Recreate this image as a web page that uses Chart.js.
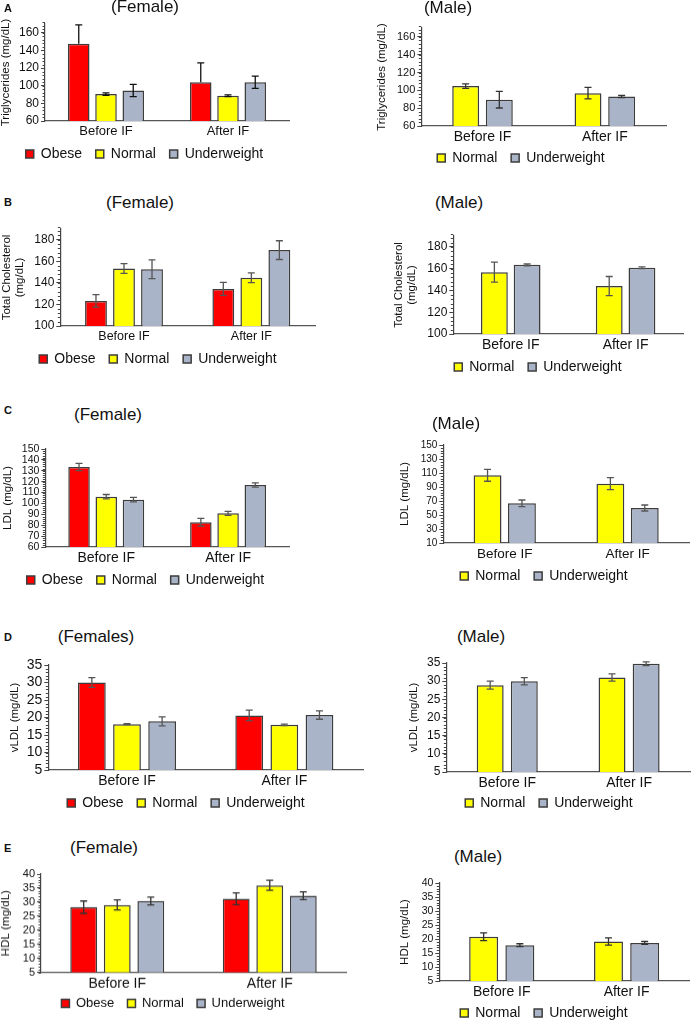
<!DOCTYPE html>
<html>
<head>
<meta charset="utf-8">
<script src="https://cdn.jsdelivr.net/npm/chart.js@4.4.1/dist/chart.umd.min.js"></script>
<style>
  body { margin: 0; background: #fff; width: 692px; height: 1020px; overflow: hidden; position: relative; font-family: "Liberation Sans", Arial, sans-serif; color: #111; }
  canvas { position: absolute; }
  .ttl { position: absolute; font-size: 17px; transform: translate(-50%, -50%); white-space: nowrap; }
  .lbl { position: absolute; font-size: 11px; font-weight: bold; transform: translateY(-50%); }
</style>
</head>
<body>
<script>
const groups = ["Before IF", "After IF"];

// A - triglycerides
const tgTicks = [60, 80, 100, 120, 140, 160];
const tgFemaleObese = [147.5, 104];
const tgFemaleObeseErr = [21.5, 22];
const tgFemaleNormal = [90.5, 88.6];
const tgFemaleNormalErr = [1.5, 1];
const tgFemaleUnder = [94.6, 104];
const tgFemaleUnderErr = [7, 7];
const tgMaleNormal = [104.8, 96.9];
const tgMaleNormalErr = [2.5, 6.4];
const tgMaleUnder = [89.5, 93.2];
const tgMaleUnderErr = [9.3, 1.2];

// B - total cholesterol
const tcTicks = [100, 120, 140, 160, 180];
const tcFemaleObese = [123.3, 134.4];
const tcFemaleObeseErr = [5.8, 6];
const tcFemaleNormal = [153.3, 144.7];
const tcFemaleNormalErr = [4.5, 4.5];
const tcFemaleUnder = [152.7, 170.4];
const tcFemaleUnderErr = [8.7, 8.7];
const tcMaleNormal = [156.8, 144];
const tcMaleNormalErr = [9.2, 8.8];
const tcMaleUnder = [163.5, 160.8];
const tcMaleUnderErr = [0.8, 0.8];

// C - LDL
const ldlFemaleTicks = [60, 70, 80, 90, 100, 110, 120, 130, 140, 150];
const ldlMaleTicks = [10, 30, 50, 70, 90, 110, 130, 150];
const ldlFemaleObese = [133.5, 82.7];
const ldlFemaleObeseErr = [3.3, 3.6];
const ldlFemaleNormal = [106.2, 90.9];
const ldlFemaleNormalErr = [2, 1.8];
const ldlFemaleUnder = [103.5, 116.9];
const ldlFemaleUnderErr = [2, 2];
const ldlMaleNormal = [106.7, 94.8];
const ldlMaleNormalErr = [8.5, 8.5];
const ldlMaleUnder = [66.7, 60];
const ldlMaleUnderErr = [4.7, 4.3];

// D - vLDL
const vldlTicks = [5, 10, 15, 20, 25, 30, 35];
const vldlFemaleObese = [30, 20.6];
const vldlFemaleObeseErr = [1.4, 1.5];
const vldlFemaleNormal = [18.1, 17.9];
const vldlFemaleNormalErr = [0.15, 0.2];
const vldlFemaleUnder = [18.9, 20.7];
const vldlFemaleUnderErr = [1.3, 1.2];
const vldlMaleNormal = [28.9, 31];
const vldlMaleNormalErr = [1.1, 1];
const vldlMaleUnder = [30, 34.8];
const vldlMaleUnderErr = [1, 0.5];

// E - HDL
const hdlTicks = [5, 10, 15, 20, 25, 30, 35, 40];
const hdlFemaleObese = [28.2, 31.2];
const hdlFemaleObeseErr = [2.2, 2.1];
const hdlFemaleNormal = [29, 36];
const hdlFemaleNormalErr = [1.8, 1.8];
const hdlFemaleUnder = [30.4, 32.3];
const hdlFemaleUnderErr = [1.4, 1.4];
const hdlMaleNormal = [20.8, 19.1];
const hdlMaleNormalErr = [1.4, 1.3];
const hdlMaleUnder = [17.8, 18.6];
const hdlMaleUnderErr = [0.5, 0.5];

const colors = { Obese: "#ff0000", Normal: "#ffff00", Underweight: "#aab4c8" };

// panel layout: tx = centre of y title, l/t/r/b = plot area, lg = legend offset below axis
const panels = [
  { tx: 6, l: 45, t: 24, r: 289, b: 121, lg: 33, tf: 12, cf: 13, lf: 14, cat: 0.67, bar: 0.79, ec: "#111",
    min: 60, max: 170, ticks: tgTicks, yTitle: "Triglycerides (mg/dL)", title: ["(Female)", 145, 7], letter: ["A", 4, 8],
    series: [["Obese", tgFemaleObese, tgFemaleObeseErr, true], ["Normal", tgFemaleNormal, tgFemaleNormalErr], ["Underweight", tgFemaleUnder, tgFemaleUnderErr]] },
  { tx: 382, l: 421, t: 28, r: 666, b: 126, lg: 32, tf: 11, cf: 14, lf: 14, cat: 0.55, bar: 0.8, ec: "#333",
    min: 60, max: 170, ticks: tgTicks, yTitle: "Triglycerides (mg/dL)", title: ["(Male)", 448, 8],
    series: [["Normal", tgMaleNormal, tgMaleNormalErr], ["Underweight", tgMaleUnder, tgMaleUnderErr]] },
  { tx: 7, l: 60, t: 229, r: 315, b: 326, lg: 33, tf: 12, cf: 12.5, lf: 14, cat: 0.66, bar: 0.78, ec: "#555",
    min: 100, max: 190, ticks: tcTicks, yTitle: ["Total Cholesterol", "(mg/dL)"], title: ["(Female)", 140, 203], letter: ["B", 4, 202],
    series: [["Obese", tcFemaleObese, tcFemaleObeseErr], ["Normal", tcFemaleNormal, tcFemaleNormalErr], ["Underweight", tcFemaleUnder, tcFemaleUnderErr]] },
  { tx: 399, l: 453, t: 236, r: 683, b: 334, lg: 33, tf: 12, cf: 14, lf: 14, cat: 0.57, bar: 0.82, ec: "#555",
    min: 100, max: 190, ticks: tcTicks, yTitle: ["Total Cholesterol", "(mg/dL)"], title: ["(Male)", 459, 203],
    series: [["Normal", tcMaleNormal, tcMaleNormalErr], ["Underweight", tcMaleUnder, tcMaleUnderErr]] },
  { tx: 8, l: 45, t: 449, r: 289, b: 547, lg: 33, tf: 10.5, cf: 14, lf: 14, cat: 0.67, bar: 0.79, ec: "#555",
    min: 60, max: 150, ticks: ldlFemaleTicks, yTitle: "LDL (mg/dL)", title: ["(Female)", 108, 415], letter: ["C", 4, 410],
    series: [["Obese", ldlFemaleObese, ldlFemaleObeseErr], ["Normal", ldlFemaleNormal, ldlFemaleNormalErr], ["Underweight", ldlFemaleUnder, ldlFemaleUnderErr]] },
  { tx: 405, l: 443, t: 445, r: 689, b: 543, lg: 33, tf: 10, cf: 13.5, lf: 14, cat: 0.56, bar: 0.81, ec: "#555",
    min: 10, max: 150, ticks: ldlMaleTicks, yTitle: "LDL (mg/dL)", title: ["(Male)", 456, 424],
    series: [["Normal", ldlMaleNormal, ldlMaleNormalErr], ["Underweight", ldlMaleUnder, ldlMaleUnderErr]] },
  { tx: 15, l: 48, t: 665, r: 363, b: 770, lg: 33, tf: 14, cf: 14, lf: 14, cat: 0.67, bar: 0.79, ec: "#555",
    min: 5, max: 35, ticks: vldlTicks, yTitle: "vLDL (mg/dL)", title: ["(Females)", 96, 637], letter: ["D", 4, 637],
    series: [["Obese", vldlFemaleObese, vldlFemaleObeseErr], ["Normal", vldlFemaleNormal, vldlFemaleNormalErr], ["Underweight", vldlFemaleUnder, vldlFemaleUnderErr]] },
  { tx: 414, l: 446, t: 663, r: 690, b: 772, lg: 31, tf: 12, cf: 14, lf: 14, cat: 0.56, bar: 0.79, ec: "#555",
    min: 5, max: 35, ticks: vldlTicks, yTitle: "vLDL (mg/dL)", title: ["(Male)", 481, 637],
    series: [["Normal", vldlMaleNormal, vldlMaleNormalErr], ["Underweight", vldlMaleUnder, vldlMaleUnderErr]] },
  { tx: 5, l: 41, t: 874, r: 346, b: 972, lg: 31, tf: 11, cf: 14, lf: 13, cat: 0.66, bar: 0.8, ec: "#333",
    min: 5, max: 40, ticks: hdlTicks, yTitle: "HDL (mg/dL)", title: ["(Female)", 104, 848], letter: ["E", 4, 848],
    series: [["Obese", hdlFemaleObese, hdlFemaleObeseErr], ["Normal", hdlFemaleNormal, hdlFemaleNormalErr], ["Underweight", hdlFemaleUnder, hdlFemaleUnderErr]] },
  { tx: 405, l: 439, t: 883, r: 689, b: 981, lg: 32, tf: 10.5, cf: 14, lf: 14, cat: 0.58, bar: 0.8, ec: "#333",
    min: 5, max: 40, ticks: hdlTicks, yTitle: "HDL (mg/dL)", title: ["(Male)", 478, 857],
    series: [["Normal", hdlMaleNormal, hdlMaleNormalErr], ["Underweight", hdlMaleUnder, hdlMaleUnderErr]] }
];

// error bars drawn over the bars
const errorBars = {
  id: "errorBars",
  afterDatasetsDraw(chart) {
    const { ctx } = chart;
    const y = chart.scales.y;
    ctx.save();
    chart.data.datasets.forEach((ds, i) => {
      chart.getDatasetMeta(i).data.forEach((bar, j) => {
        const v = ds.data[j], e = ds.err[j];
        const top = y.getPixelForValue(v + e);
        const bot = ds.plusOnly ? bar.y : y.getPixelForValue(v - e);
        ctx.strokeStyle = ds.errColor;
        ctx.lineWidth = 1.3;
        ctx.beginPath();
        ctx.moveTo(bar.x, top); ctx.lineTo(bar.x, bot);
        ctx.moveTo(bar.x - 3.5, top); ctx.lineTo(bar.x + 3.5, top);
        if (!ds.plusOnly) { ctx.moveTo(bar.x - 3.5, bot); ctx.lineTo(bar.x + 3.5, bot); }
        ctx.stroke();
      });
    });
    ctx.restore();
  }
};

// small excel-like minor ticks on the y axis
const minorTicks = {
  id: "minorTicks",
  afterDraw(chart) {
    const y = chart.scales.y, ctx = chart.ctx;
    const tv = y.ticks.map(t => t.value);
    if (tv.length < 2) return;
    const step = (tv[1] - tv[0]) / 5;
    const n = Math.round((y.max - y.min) / step);
    ctx.save();
    ctx.strokeStyle = "#444";
    ctx.lineWidth = 1;
    ctx.beginPath();
    for (let k = 0; k <= n; k++) {
      const py = Math.round(y.getPixelForValue(y.min + k * step)) + 0.5;
      ctx.moveTo(y.right - 2.5, py); ctx.lineTo(y.right, py);
    }
    ctx.stroke();
    ctx.restore();
  }
};

const LH = 1.1;     // y title line height factor
const LEG_PAD = 6;  // legend padding
const X_PAD = 3;    // gap between axis and category labels

panels.forEach(p => {
  const yFont = 11.5;
  const x0 = Math.max(0, p.tx - yFont * LH / 2);
  const padT = 12;
  const y0 = p.t - padT;
  const xH = p.lg - LEG_PAD - p.lf / 2;
  const legH = p.lf + LEG_PAD + 10;
  const W = p.r + 4 - x0;
  const H = padT + (p.b - p.t) + xH + legH;

  const cv = document.createElement("canvas");
  cv.width = W; cv.height = H;
  cv.style.left = x0 + "px"; cv.style.top = y0 + "px";
  cv.style.width = W + "px"; cv.style.height = H + "px";
  document.body.appendChild(cv);

  const t = document.createElement("div");
  t.className = "ttl";
  t.textContent = p.title[0];
  t.style.left = p.title[1] + "px"; t.style.top = p.title[2] + "px";
  document.body.appendChild(t);
  if (p.letter) {
    const d = document.createElement("div");
    d.className = "lbl";
    d.textContent = p.letter[0];
    d.style.left = p.letter[1] + "px"; d.style.top = p.letter[2] + "px";
    document.body.appendChild(d);
  }

  const datasets = p.series.map(s => ({
    label: s[0],
    data: s[1],
    err: s[2],
    plusOnly: !!s[3],
    errColor: p.ec,
    backgroundColor: colors[s[0]],
    borderColor: "#3c3c3c",
    borderWidth: 1.5,
    categoryPercentage: p.cat,
    barPercentage: p.bar
  }));

  new Chart(cv, {
    type: "bar",
    data: { labels: groups, datasets: datasets },
    options: {
      responsive: false,
      animation: false,
      layout: { padding: { left: 0, right: 4, top: padT, bottom: 0 } },
      plugins: {
        legend: {
          position: "bottom",
          labels: {
            boxWidth: 8, boxHeight: 8, padding: LEG_PAD, color: "#111",
            font: { family: "Liberation Sans", size: p.lf },
            // a bit more room between items, like the excel legend
            generateLabels: chart => {
              const items = Chart.defaults.plugins.legend.labels.generateLabels(chart);
              items.forEach((it, i) => { if (i < items.length - 1) it.text += "  "; });
              return items;
            }
          }
        },
        tooltip: { enabled: false }
      },
      scales: {
        x: {
          grid: { display: false, drawTicks: false },
          border: { color: "#555", width: 1.2 },
          ticks: { color: "#111", padding: X_PAD, maxRotation: 0, autoSkip: false,
                   font: { family: "Liberation Sans", size: p.cf } },
          afterFit: s => { s.height = xH; }
        },
        y: {
          min: p.min, max: p.max,
          afterBuildTicks: s => { s.ticks = p.ticks.map(v => ({ value: v })); },
          grid: { drawOnChartArea: false, drawTicks: true, tickLength: 4, color: "#444" },
          border: { color: "#444", width: 1.2 },
          ticks: { color: "#111", padding: 2, autoSkip: false,
                   font: { family: "Liberation Sans", size: p.tf } },
          title: { display: true, text: p.yTitle, color: "#111", padding: 0,
                   font: { family: "Liberation Sans", size: yFont, lineHeight: LH } },
          afterFit: s => { s.width = p.l - x0; }
        }
      }
    },
    plugins: [errorBars, minorTicks]
  });
});
</script>
</body>
</html>
